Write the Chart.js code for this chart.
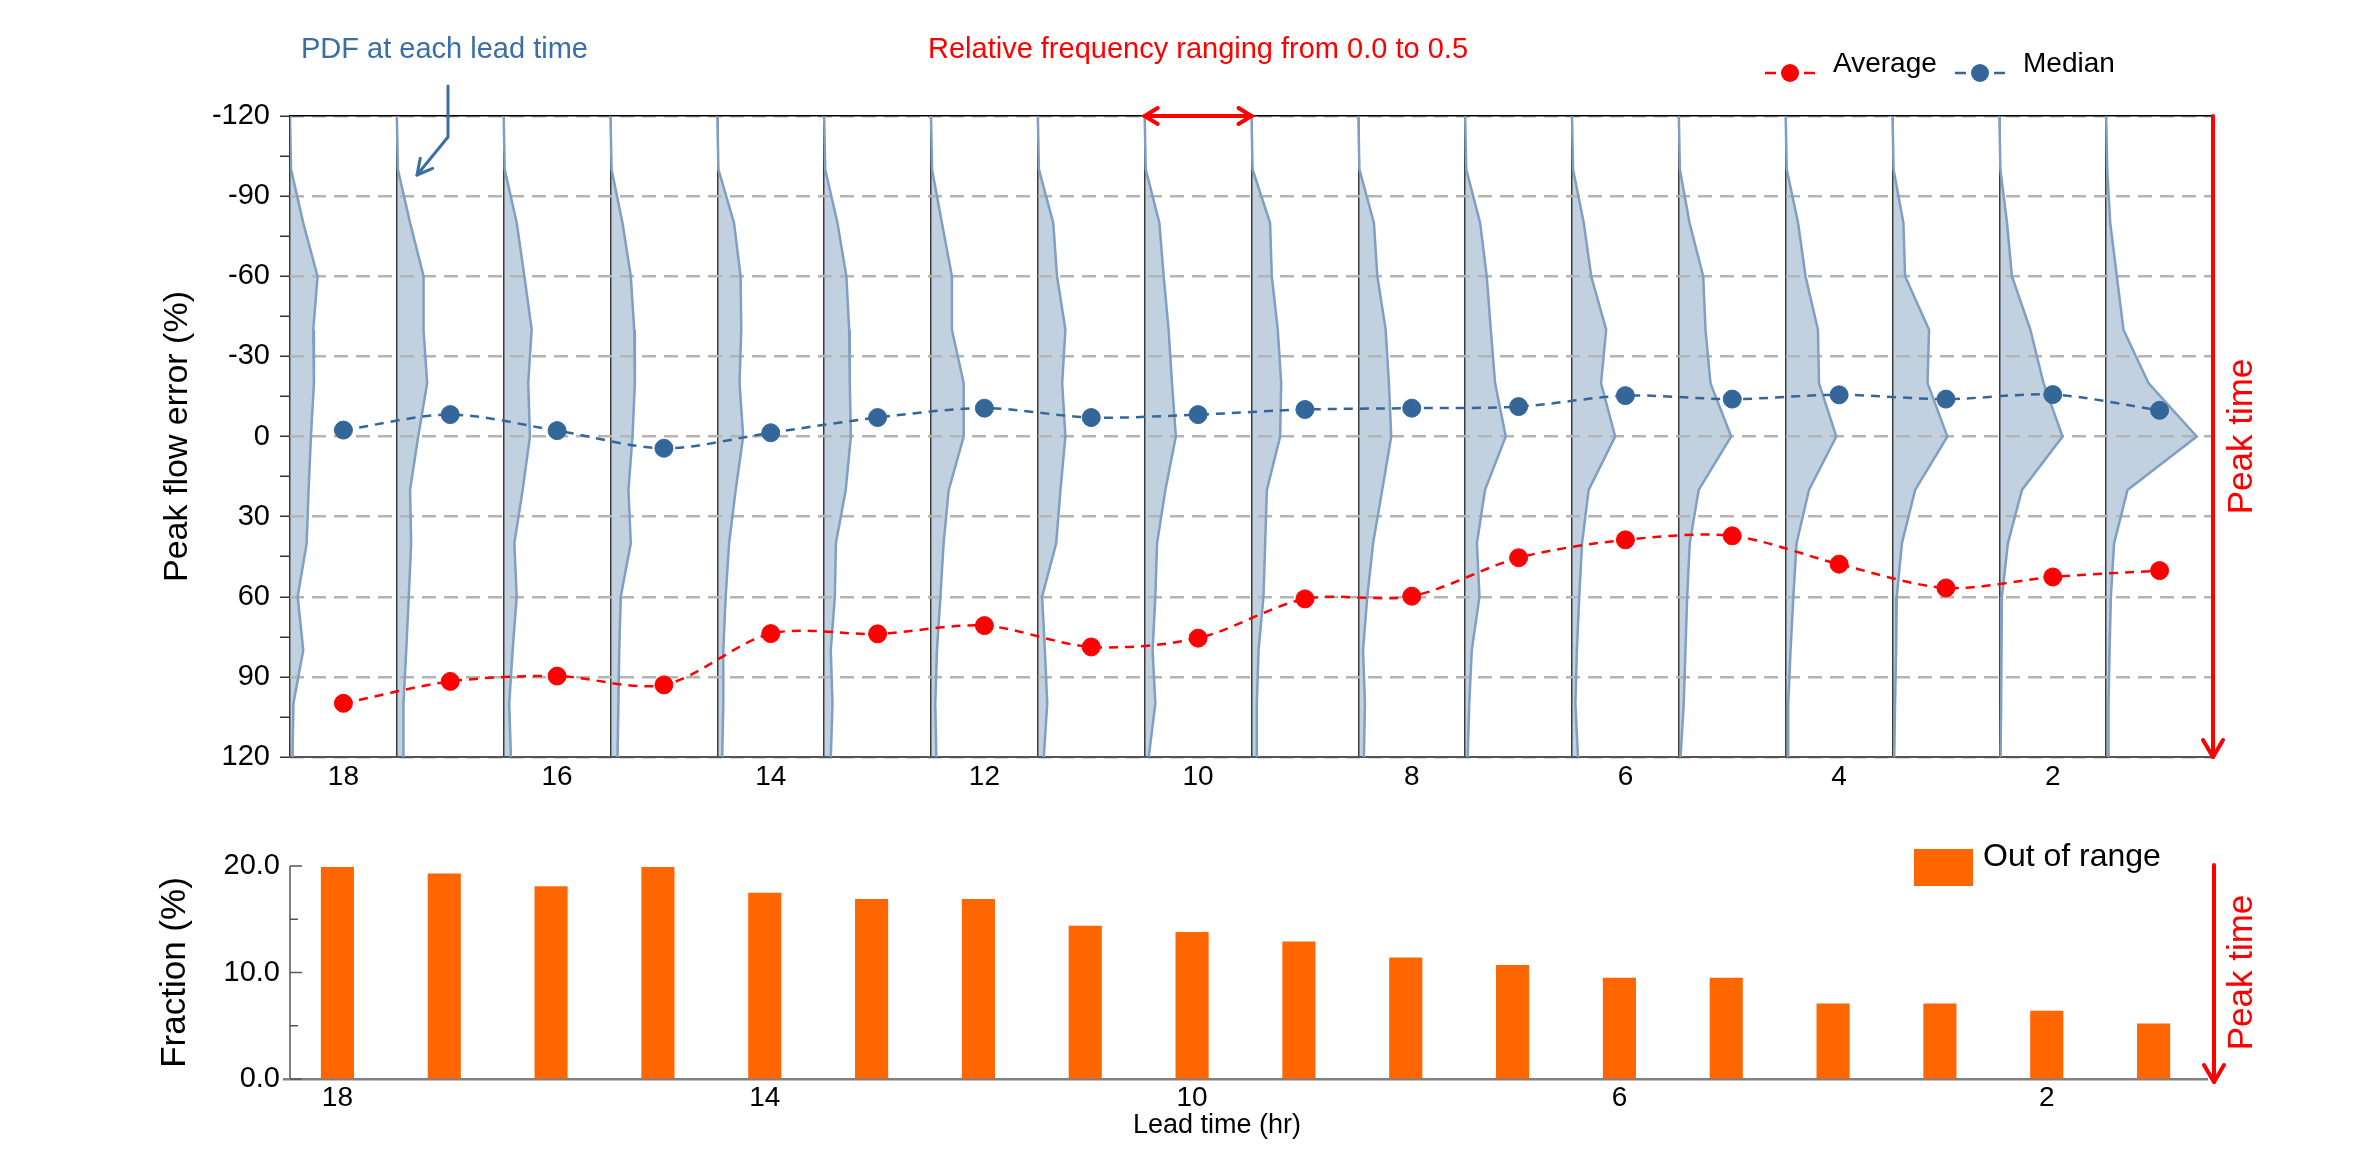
<!DOCTYPE html>
<html>
<head>
<meta charset="utf-8">
<script src="https://cdn.jsdelivr.net/npm/chart.js@4.4.1/dist/chart.umd.min.js"></script>
<style>
  body { margin: 0; background: #fff; }
  #wrap { position: relative; width: 2361px; height: 1161px; background: #fff; }
  canvas { position: absolute; left: 0; }
</style>
</head>
<body>
<div id="wrap">
  <canvas id="pdfChart" width="2361" height="800" style="top:0"></canvas>
  <canvas id="fracChart" width="2361" height="361" style="top:800px"></canvas>
</div>
<script>
// Lead times (hr), left to right
const leadTimes = [18, 17, 16, 15, 14, 13, 12, 11, 10, 9, 8, 7, 6, 5, 4, 3, 2, 1]

// Peak flow error bins (%) where each PDF is sampled
const errorBins = [-120, -100, -80, -60, -40, -20, 0, 20, 40, 60, 80, 100, 120]

// Relative frequency of each bin, one row per lead time (same order as leadTimes)
const pdfFreq = [
  [0, 0.005, 0.062, 0.129, 0.109, 0.112, 0.098, 0.087, 0.078, 0.036, 0.062, 0.016, 0.012], // 18
  [0, 0.005, 0.062, 0.125, 0.125, 0.142, 0.100, 0.062, 0.067, 0.056, 0.044, 0.031, 0.031], // 17
  [0, 0.005, 0.061, 0.097, 0.131, 0.115, 0.123, 0.089, 0.050, 0.061, 0.042, 0.026, 0.034], // 16
  [0, 0.005, 0.056, 0.095, 0.111, 0.114, 0.103, 0.084, 0.095, 0.048, 0.041, 0.037, 0.033], // 15
  [0, 0.005, 0.078, 0.109, 0.112, 0.104, 0.121, 0.086, 0.055, 0.039, 0.028, 0.028, 0.023], // 14
  [0, 0.005, 0.062, 0.104, 0.117, 0.120, 0.125, 0.101, 0.055, 0.050, 0.031, 0.039, 0.031], // 13
  [0, 0.005, 0.051, 0.098, 0.098, 0.153, 0.153, 0.083, 0.059, 0.044, 0.028, 0.020, 0.025], // 12
  [0, 0.005, 0.072, 0.090, 0.129, 0.114, 0.129, 0.106, 0.086, 0.020, 0.033, 0.044, 0.028], // 11
  [0, 0.005, 0.069, 0.089, 0.112, 0.128, 0.146, 0.097, 0.058, 0.050, 0.037, 0.050, 0.019], // 10
  [0, 0.005, 0.087, 0.095, 0.123, 0.139, 0.134, 0.072, 0.064, 0.056, 0.033, 0.025, 0.025], // 9
  [0, 0.005, 0.073, 0.089, 0.128, 0.143, 0.154, 0.112, 0.069, 0.042, 0.022, 0.031, 0.026], // 8
  [0, 0.005, 0.070, 0.101, 0.120, 0.140, 0.190, 0.093, 0.055, 0.067, 0.031, 0.019, 0.012], // 7
  [0, 0.005, 0.055, 0.090, 0.160, 0.136, 0.202, 0.078, 0.047, 0.034, 0.023, 0.016, 0.028], // 6
  [0, 0.005, 0.050, 0.114, 0.125, 0.148, 0.245, 0.093, 0.051, 0.039, 0.031, 0.023, 0.008], // 5
  [0, 0.005, 0.058, 0.093, 0.151, 0.156, 0.237, 0.109, 0.051, 0.036, 0.023, 0.012, 0.012], // 4
  [0, 0.005, 0.051, 0.059, 0.171, 0.164, 0.257, 0.106, 0.044, 0.020, 0.017, 0.012, 0.008], // 3
  [0, 0.005, 0.036, 0.059, 0.145, 0.207, 0.296, 0.106, 0.040, 0.012, 0.009, 0.008, 0.006], // 2
  [0, 0.005, 0.019, 0.050, 0.081, 0.198, 0.424, 0.100, 0.037, 0.022, 0.016, 0.011, 0.011]  // 1
]

// Average and median peak flow error (%) per lead time
const averageError = [99.9, 91.7, 89.7, 93.0, 73.8, 73.9, 70.8, 78.8, 75.5, 60.8, 59.8, 45.4, 38.7, 37.2, 47.8, 56.7, 52.6, 50.2]
const medianError = [-2.4, -8.2, -2.2, 4.4, -1.4, -7.1, -10.6, -7.1, -8.2, -10.1, -10.6, -11.2, -15.3, -14.0, -15.6, -14.0, -15.7, -9.8]

// Fraction of events out of range (%) per lead time
const outOfRange = [19.9, 19.3, 18.1, 19.9, 17.5, 16.9, 16.9, 14.4, 13.8, 12.9, 11.4, 10.7, 9.5, 9.5, 7.1, 7.1, 6.4, 5.2]

// Tick labels
const errorTicks = [-120, -90, -60, -30, 0, 30, 60, 90, 120]
const topLeadTicks = [18, 16, 14, 12, 10, 8, 6, 4, 2]
const bottomLeadTicks = [18, 14, 10, 6, 2]
const fractionTicks = [0, 10, 20]

// a relative frequency of 0.5 spans one hour on the lead time axis
const FREQ_TO_HOURS = 2

const FONT = "'Liberation Sans', Arial, Helvetica, sans-serif"
const RED = '#ff0000'
const BLUE = '#336699'
const NOTE_BLUE = '#3b6ea5'
const ORANGE = '#ff6600'

// ---------------------------------------------------------------------------
// drawing helpers for the annotations

function arrowHead (ctx, tipX, tipY, dirX, dirY, len, spread) {
  const n = Math.hypot(dirX, dirY)
  const ux = dirX / n
  const uy = dirY / n
  const bx = tipX - ux * len
  const by = tipY - uy * len
  ctx.beginPath()
  ctx.moveTo(bx - uy * spread, by + ux * spread)
  ctx.lineTo(tipX, tipY)
  ctx.lineTo(bx + uy * spread, by - ux * spread)
  ctx.stroke()
}

function rotatedText (ctx, text, x, y, font, color) {
  ctx.save()
  ctx.translate(x, y)
  ctx.rotate(-Math.PI / 2)
  ctx.font = font
  ctx.fillStyle = color
  ctx.textAlign = 'center'
  ctx.textBaseline = 'alphabetic'
  ctx.fillText(text, 0, 0)
  ctx.restore()
}

function downArrow (ctx, x, y1, y2) {
  ctx.save()
  ctx.strokeStyle = RED
  ctx.lineWidth = 4
  ctx.lineCap = 'round'
  ctx.lineJoin = 'round'
  ctx.beginPath()
  ctx.moveTo(x, y1)
  ctx.lineTo(x, y2)
  ctx.stroke()
  arrowHead(ctx, x, y2, 0, 1, 17, 10)
  ctx.restore()
}

function legendMarker (ctx, x, y, color) {
  ctx.save()
  ctx.strokeStyle = color
  ctx.fillStyle = color
  ctx.lineWidth = 2.5
  ctx.beginPath()
  ctx.moveTo(x, y)
  ctx.lineTo(x + 11, y)
  ctx.moveTo(x + 39, y)
  ctx.lineTo(x + 50, y)
  ctx.stroke()
  ctx.beginPath()
  ctx.arc(x + 25, y, 9, 0, Math.PI * 2)
  ctx.fill()
  ctx.restore()
}

const pdfAnnotations = {
  id: 'pdfAnnotations',
  afterDraw (chart) {
    const { ctx, chartArea: { top, bottom, right } } = chart
    const xs = chart.scales.x
    const midY = (top + bottom) / 2

    rotatedText(ctx, 'Peak flow error (%)', 187, midY, `34px ${FONT}`, '#000')

    downArrow(ctx, right, top, bottom)
    rotatedText(ctx, 'Peak time', 2252, midY, `35px ${FONT}`, RED)

    // PDF note with its arrow
    ctx.save()
    ctx.font = `29px ${FONT}`
    ctx.fillStyle = NOTE_BLUE
    ctx.textAlign = 'left'
    ctx.textBaseline = 'alphabetic'
    ctx.fillText('PDF at each lead time', 301, 58)
    ctx.strokeStyle = NOTE_BLUE
    ctx.lineWidth = 3
    ctx.lineCap = 'round'
    ctx.lineJoin = 'round'
    ctx.beginPath()
    ctx.moveTo(448, 86)
    ctx.lineTo(448, 137)
    ctx.lineTo(417, 175)
    ctx.stroke()
    arrowHead(ctx, 417, 175, -31, 38, 15, 8)
    ctx.restore()

    // relative frequency note with the one-hour span arrow
    ctx.save()
    ctx.font = `29px ${FONT}`
    ctx.fillStyle = RED
    ctx.textAlign = 'center'
    ctx.textBaseline = 'alphabetic'
    ctx.fillText('Relative frequency ranging from 0.0 to 0.5', 1198, 58)
    const x1 = xs.getPixelForValue(10.5)
    const x2 = xs.getPixelForValue(9.5)
    ctx.strokeStyle = RED
    ctx.lineWidth = 4
    ctx.lineCap = 'round'
    ctx.beginPath()
    ctx.moveTo(x1, top)
    ctx.lineTo(x2, top)
    ctx.stroke()
    arrowHead(ctx, x1, top, -1, 0, 13, 8)
    arrowHead(ctx, x2, top, 1, 0, 13, 8)
    ctx.restore()

    // legend
    ctx.save()
    ctx.font = `28px ${FONT}`
    ctx.fillStyle = '#000'
    ctx.textAlign = 'left'
    ctx.textBaseline = 'alphabetic'
    legendMarker(ctx, 1765, 73, RED)
    ctx.fillText('Average', 1833, 72)
    legendMarker(ctx, 1955, 73, BLUE)
    ctx.fillText('Median', 2023, 72)
    ctx.restore()
  }
}

const fracAnnotations = {
  id: 'fracAnnotations',
  afterDraw (chart) {
    const { ctx, chartArea: { top, bottom, left, right } } = chart
    const ys = chart.scales.y
    const midY = (top + bottom) / 2

    rotatedText(ctx, 'Fraction (%)', 185, midY, `35px ${FONT}`, '#000')

    // y axis line and inward ticks
    const axisX = left + 6
    ctx.save()
    ctx.strokeStyle = '#808080'
    ctx.lineWidth = 2
    ctx.beginPath()
    ctx.moveTo(axisX, top)
    ctx.lineTo(axisX, bottom)
    ctx.stroke()
    ctx.strokeStyle = '#555'
    ctx.lineWidth = 1.5
    ys.ticks.forEach(t => {
      const y = ys.getPixelForValue(t.value)
      const len = fractionTicks.includes(t.value) ? 12 : 8
      ctx.beginPath()
      ctx.moveTo(axisX, y)
      ctx.lineTo(axisX + len, y)
      ctx.stroke()
    })
    ctx.restore()

    downArrow(ctx, right + 7, top - 1, bottom + 3)
    rotatedText(ctx, 'Peak time', 2252, midY, `35px ${FONT}`, RED)

    ctx.save()
    ctx.fillStyle = ORANGE
    ctx.fillRect(1914, 49, 59, 37)
    ctx.font = `32px ${FONT}`
    ctx.fillStyle = '#000'
    ctx.textAlign = 'left'
    ctx.textBaseline = 'alphabetic'
    ctx.fillText('Out of range', 1983, 66)
    ctx.font = `27px ${FONT}`
    ctx.textAlign = 'center'
    ctx.fillText('Lead time (hr)', 1217, 333)
    ctx.restore()
  }
}

// ---------------------------------------------------------------------------
// top panel: PDFs + average / median

const pdfDatasets = leadTimes.map((lead, i) => ({
  indexAxis: 'y',
  xAxisID: 'x',
  yAxisID: 'y',
  data: errorBins.map((e, j) => ({ x: lead + 0.5 - pdfFreq[i][j] * FREQ_TO_HOURS, y: e })),
  borderColor: '#7f9fc3',
  borderWidth: 2.5,
  backgroundColor: '#c1d1e0',
  fill: { value: lead + 0.5 },
  pointRadius: 0,
  tension: 0,
  order: 1
}))

const statLine = (label, values, color) => ({
  label: label,
  xAxisID: 'x',
  yAxisID: 'y',
  data: leadTimes.map((t, i) => ({ x: t, y: values[i] })),
  borderColor: color,
  backgroundColor: color,
  borderWidth: 2.5,
  borderDash: [9, 7],
  pointRadius: 9,
  pointBorderWidth: 1,
  tension: 0.3,
  fill: false,
  order: 0
})

// ticks at every lead time and every PDF baseline (lead + 0.5)
const xTickValues = leadTimes.flatMap(t => [t + 0.5, t]).concat([0.5])
const yTickValues = []
for (let v = -120; v <= 120; v += 15) yTickValues.push(v)

const isBaseline = v => (v % 1) !== 0 && v > 1

new Chart(document.getElementById('pdfChart'), {
  type: 'line',
  data: {
    datasets: pdfDatasets.concat([
      statLine('Average', averageError, RED),
      statLine('Median', medianError, BLUE)
    ])
  },
  options: {
    responsive: false,
    animation: false,
    devicePixelRatio: 1,
    events: [],
    layout: { padding: { top: 116, right: 148, left: 0, bottom: 0 } },
    plugins: {
      legend: { display: false },
      tooltip: { enabled: false },
      filler: { drawTime: 'beforeDraw' }
    },
    scales: {
      x: {
        type: 'linear',
        position: 'bottom',
        reverse: true,
        min: 0.5,
        max: 18.5,
        afterBuildTicks: scale => { scale.ticks = xTickValues.map(v => ({ value: v })) },
        afterFit: scale => { scale.height = 43 },
        ticks: {
          autoSkip: false,
          maxRotation: 0,
          padding: 3,
          color: '#000',
          font: { family: FONT, size: 28 },
          callback: v => topLeadTicks.includes(v) ? String(v) : ''
        },
        grid: {
          drawTicks: false,
          lineWidth: 1.5,
          color: c => (c.tick && isBaseline(c.tick.value)) ? '#3c3c3c' : 'rgba(0,0,0,0)'
        },
        border: { display: true, color: '#555', width: 2 }
      },
      xTop: {
        type: 'linear',
        position: 'top',
        reverse: true,
        min: 0.5,
        max: 18.5,
        afterFit: scale => { scale.height = 0 },
        ticks: { display: false },
        grid: { display: false, drawTicks: false },
        border: { display: true, color: '#000', width: 1.5 }
      },
      y: {
        type: 'linear',
        reverse: true,
        min: -120,
        max: 120,
        afterBuildTicks: scale => { scale.ticks = yTickValues.map(v => ({ value: v })) },
        afterFit: scale => { scale.width = 290 },
        ticks: {
          autoSkip: false,
          padding: 10,
          color: '#000',
          font: { family: FONT, size: 29 },
          callback: v => errorTicks.includes(v) ? String(v) : ''
        },
        grid: {
          lineWidth: 2.5,
          color: c => (c.tick && c.tick.value % 30 === 0) ? '#b4b4b4' : 'rgba(0,0,0,0)',
          tickLength: 10,
          tickWidth: 1.5,
          tickColor: '#333',
          tickBorderDash: []
        },
        border: { display: false, dash: [14, 8] }
      }
    }
  },
  plugins: [pdfAnnotations]
})

// ---------------------------------------------------------------------------
// bottom panel: out of range fraction

new Chart(document.getElementById('fracChart'), {
  type: 'bar',
  data: {
    labels: leadTimes.map(String),
    datasets: [{
      label: 'Out of range',
      data: outOfRange,
      backgroundColor: ORANGE,
      barPercentage: 0.31,
      categoryPercentage: 1
    }]
  },
  options: {
    responsive: false,
    animation: false,
    devicePixelRatio: 1,
    events: [],
    layout: { padding: { top: 66, right: 154, left: 0, bottom: 0 } },
    plugins: {
      legend: { display: false },
      tooltip: { enabled: false }
    },
    scales: {
      x: {
        afterFit: scale => { scale.height = 82 },
        ticks: {
          autoSkip: false,
          maxRotation: 0,
          padding: 2,
          color: '#000',
          font: { family: FONT, size: 28 },
          callback: (v, i) => bottomLeadTicks.includes(leadTimes[i]) ? String(leadTimes[i]) : ''
        },
        grid: { display: false, drawTicks: false },
        border: { display: true, color: '#808080', width: 2.5 }
      },
      y: {
        min: 0,
        max: 20,
        afterFit: scale => { scale.width = 284 },
        ticks: {
          stepSize: 5,
          padding: 4,
          color: '#000',
          font: { family: FONT, size: 29 },
          callback: v => fractionTicks.includes(v) ? v.toFixed(1) : ''
        },
        grid: { drawOnChartArea: false, drawTicks: false },
        border: { display: false }
      }
    }
  },
  plugins: [fracAnnotations]
})
</script>
</body>
</html>
